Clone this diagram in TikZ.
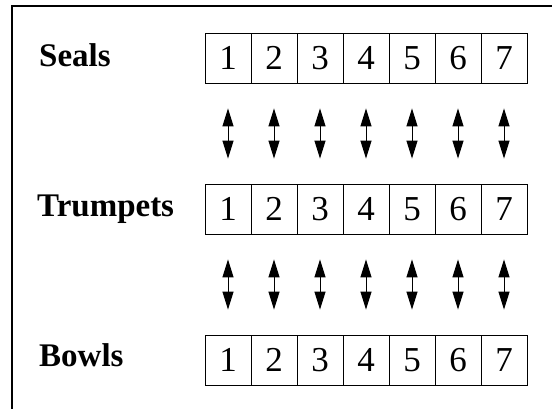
\documentclass[tikz,border=0pt]{standalone}
\usepackage{fontspec}
\setmainfont{Liberation Serif}
\usetikzlibrary{arrows.meta}
\tikzset{
  cell/.style={draw, line width=0.8pt, minimum width=46pt, minimum height=50pt, inner sep=0pt, font=\fontsize{35}{37}\selectfont},
  rowlabel/.style={anchor=base west, inner sep=0pt, font=\fontsize{33}{35}\selectfont\bfseries},
  link/.style={line width=1pt, {Triangle[length=18pt,width=11pt]}-{Triangle[length=18pt,width=11pt]}, shorten >=25pt, shorten <=25pt},
  frame/.style={line width=1.2pt}
}
\begin{document}
\begin{tikzpicture}[x=1pt,y=-1pt]
\useasboundingbox (0,0) rectangle (552,409);
\draw[frame] (12,409) -- (12,6) -- (552,6);
\foreach \i in {1,...,7} {
  \node[cell] (s\i) at ({228+46*(\i-1)},58) {\i};
  \node[cell] (t\i) at ({228+46*(\i-1)},209) {\i};
  \node[cell] (b\i) at ({228+46*(\i-1)},360) {\i};
}
\node[rowlabel] (seals) at (39,67) {Seals};
\node[rowlabel] (trumpets) at (37,216) {Trumpets};
\node[rowlabel] (bowls) at (39,366) {Bowls};
\foreach \i in {1,...,7} {
  \draw[link] (s\i.south) -- (t\i.north);
  \draw[link] (t\i.south) -- (b\i.north);
}
\end{tikzpicture}
\end{document}
